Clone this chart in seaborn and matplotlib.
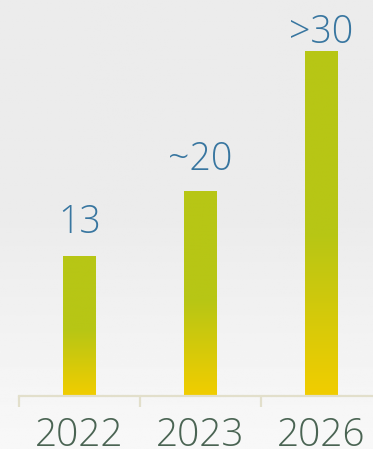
"""
Bar chart with gradient bars: growth from 2022 to 2026.
"""

import numpy as np
import pandas as pd
import seaborn as sns
import matplotlib.pyplot as plt
from matplotlib.colors import LinearSegmentedColormap

years = ['2022', '2023', '2026']
values = [13, 19, 32]
value_labels = ['13', '~20', '>30']

# vertical gap (px) between top of bar and its label
label_gaps = [23, 21, 8]

GREEN = '#b7c615'
YELLOW = '#f1cd00'
LABEL_BLUE = '#3876a0'
TICK_GREY = '#4a6453'
AXIS_BEIGE = '#e2dfcb'


def draw_chart(df):
    sns.set_style('white')
    plt.rcParams['font.family'] = ['Open Sans', 'DejaVu Sans']
    plt.rcParams['font.weight'] = 'light'

    fig = plt.figure(figsize=(3.73, 4.49), dpi=100)

    # background gradient over the whole figure
    bg_ax = fig.add_axes([0, 0, 1, 1], zorder=-1)
    rows = np.linspace(0, 1, 200)
    shade = np.interp(rows, [0, 0.5, 0.9, 1.0], [236, 236, 246, 248]) / 255
    bg = np.repeat(shade[:, None], 2, axis=1)
    bg_ax.imshow(bg, cmap='gray', vmin=0, vmax=1, aspect='auto',
                 extent=[0, 1, 1, 0])
    bg_ax.set_axis_off()

    ax = fig.add_axes([19 / 373, 53 / 449, 363 / 373, 377 / 449])
    ax.set_facecolor('none')
    sns.barplot(data=df, x='year', y='value', width=0.265, color=GREEN, ax=ax)

    bar_cmap = LinearSegmentedColormap.from_list(
        'bar', [(0, YELLOW), (0.47, GREEN), (1, GREEN)])
    grad = np.linspace(0, 1, 256)[:, None]
    for patch in ax.patches:
        x0, y0 = patch.get_x(), patch.get_y()
        w, h = patch.get_width(), patch.get_height()
        patch.set_facecolor('none')
        patch.set_edgecolor('none')
        img = ax.imshow(grad, cmap=bar_cmap, aspect='auto', origin='lower',
                        extent=[x0, x0 + w, y0, y0 + h], zorder=2)
        img.set_clip_path(patch)

    for i, (val, lab) in enumerate(zip(df['value'], df['label'])):
        ax.annotate(lab, (i, val), xytext=(0, label_gaps[i] * 0.72),
                    textcoords='offset points', ha='center', va='baseline',
                    fontsize=27, color=LABEL_BLUE, fontweight='light')

    ax.set_xlim(-0.5, 2.5)
    ax.set_ylim(0, 35)
    ax.set(xlabel='', ylabel='')
    ax.set_yticks([])
    sns.despine(ax=ax, left=True)
    ax.spines['bottom'].set_color(AXIS_BEIGE)
    ax.spines['bottom'].set_linewidth(1.6)
    ax.set_xticks([-0.5, 0.5, 1.5], minor=True)
    ax.tick_params(axis='x', which='minor', bottom=True, length=8, width=1.6,
                   color=AXIS_BEIGE, direction='out')
    ax.tick_params(axis='x', which='major', bottom=True, length=0, pad=15,
                   labelsize=28, labelcolor=TICK_GREY)
    for t in ax.get_xticklabels():
        t.set_fontweight('light')

    fig.savefig('out.png', dpi=100)


if __name__ == "__main__":
    df_growth = pd.DataFrame({'year': years, 'value': values, 'label': value_labels})
    draw_chart(df_growth)
